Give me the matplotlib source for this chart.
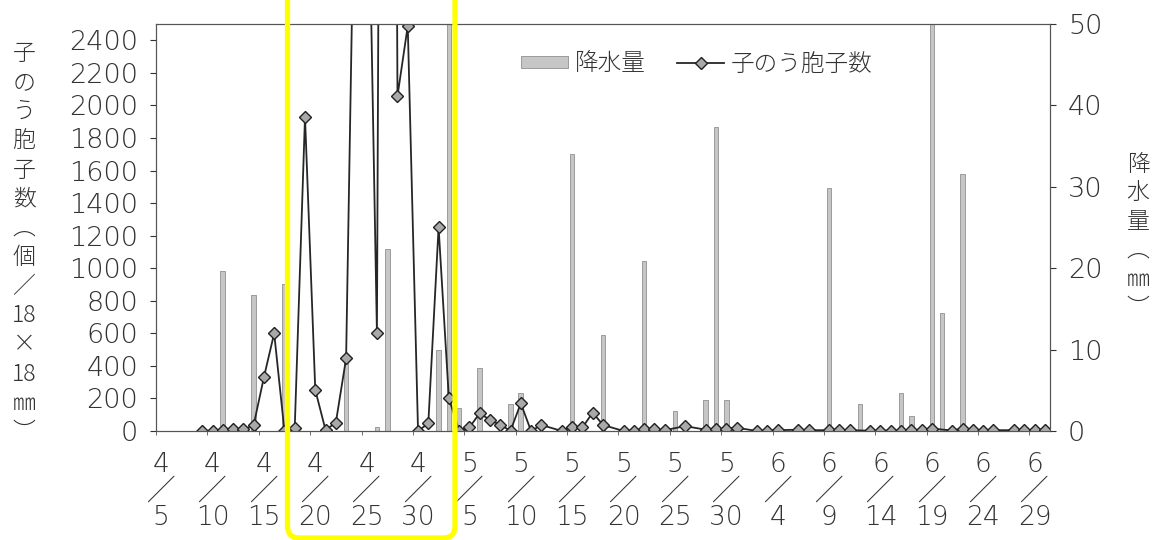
import matplotlib
matplotlib.use('Agg')
import matplotlib.pyplot as plt
import numpy as np
import pandas as pd
from matplotlib.patches import FancyBboxPatch, Patch
from matplotlib.lines import Line2D

plt.rcParams['font.family'] = ['DejaVu Sans', 'Noto Sans CJK JP']
plt.rcParams['font.weight'] = 'light'
JP = ['Noto Sans CJK JP', 'DejaVu Sans']

# category axis: every day from 4/5 to 6/30
days = pd.date_range('2000-04-05', '2000-06-30', freq='D')
day_labels = ['%d/%d' % (d.month, d.day) for d in days]

# precipitation (mm), right axis
rain_days = ['4/11', '4/14', '4/17', '4/23', '4/26', '4/27', '5/2', '5/3', '5/4',
             '5/6', '5/9', '5/10', '5/15', '5/18', '5/22', '5/25', '5/28', '5/29',
             '5/30', '6/9', '6/10', '6/12', '6/16', '6/17', '6/19', '6/20', '6/22']
rain_mm = [19.7, 16.7, 18.0, 9.5, 0.5, 22.4, 10.0, 52.0, 2.8,
           7.7, 3.3, 4.7, 34.0, 11.8, 20.9, 2.4, 3.8, 37.4,
           3.8, 29.8, 0.5, 3.3, 4.7, 1.8, 55.0, 14.5, 31.6]

# ascospore count (per 18x18 mm), left axis; days without a value are skipped
spore_days = ['4/9', '4/10', '4/11', '4/12', '4/13', '4/14', '4/15', '4/16', '4/17',
              '4/18', '4/19', '4/20', '4/21', '4/22', '4/23', '4/24', '4/25', '4/26',
              '4/27', '4/28', '4/29', '4/30', '5/1', '5/2', '5/3', '5/4', '5/5',
              '5/6', '5/7', '5/8', '5/9', '5/10', '5/11', '5/12', '5/14', '5/15',
              '5/16', '5/17', '5/18', '5/20', '5/21', '5/22', '5/23', '5/24', '5/26',
              '5/28', '5/29', '5/30', '5/31', '6/2', '6/3', '6/4', '6/6', '6/7',
              '6/9', '6/10', '6/11', '6/13', '6/14', '6/15', '6/16', '6/17', '6/18',
              '6/19', '6/21', '6/22', '6/23', '6/24', '6/25', '6/27', '6/28', '6/29',
              '6/30']
spore_count = [0, 0, 5, 15, 10, 35, 330, 600, 0,
               17, 1930, 252, 6, 51, 446, 4150, 4090, 600,
               15000, 2058, 2488, 0, 47, 1251, 201, 3, 22,
               109, 68, 37, 2, 170, 0, 37, 0, 26,
               22, 113, 37, 0, 3, 12, 10, 5, 30,
               8, 12, 15, 20, 0, 3, 5, 8, 5,
               5, 5, 5, 2, 2, 3, 3, 5, 5,
               15, 3, 15, 5, 3, 5, 5, 5, 5,
               5]

idx = {lab: i for i, lab in enumerate(day_labels)}
rain_x = [idx[d] for d in rain_days]
spore_x = [idx[d] for d in spore_days]

W, H = 1165, 540
fig = plt.figure(figsize=(W / 100, H / 100), dpi=100)
ax = fig.add_axes([156 / W, 1 - 431 / H, (1050 - 156) / W, (431 - 24) / H])
ax2 = ax.twinx()

ax2.bar(rain_x, rain_mm, width=0.45, color='#c6c6c6', edgecolor='#909090', linewidth=0.6)
ax.plot(spore_x, spore_count, color='#262626', lw=1.3, marker='D', ms=6.5,
        mfc='#a9a9a9', mec='#202020', mew=1.0)

ax.set_zorder(ax2.get_zorder() + 1)
ax.patch.set_visible(False)

ax.set_xlim(-0.5, len(days) - 0.5)
ax.set_ylim(0, 2500)
ax2.set_ylim(0, 50)
ax.set_yticks(np.arange(0, 2401, 200))
ax2.set_yticks(np.arange(0, 51, 10))

tick_pos = list(range(0, len(days), 5))
ax.set_xticks(tick_pos)
ax.set_xticklabels(['%s\n╱\n%s' % tuple(day_labels[i].split('/')) for i in tick_pos],
                   linespacing=1.05)
ax.set_xticks(np.arange(-0.5, len(days), 5), minor=True)
ax.tick_params(axis='x', which='major', length=0, pad=15, labelsize=19, colors='#333333')
ax.tick_params(axis='x', which='minor', length=3, direction='out', color='#555555')

for a in (ax, ax2):
    a.tick_params(axis='y', length=4, width=0.8, direction='out', labelsize=19.5,
                  colors='#333333', pad=9)
    for s in a.spines.values():
        s.set_color('#555555')
        s.set_linewidth(0.8)

fig.text(24 / W, 1 - 243 / H,
         '\n'.join(['子', 'の', 'う', '胞', '子', '数', '︵', '個', '／', '18', '×', '18', '㎜', '︶']),
         family=JP, fontsize=16.5, ha='center', va='center', linespacing=1.22, color='#333333')
fig.text(1138 / W, 1 - 236 / H,
         '\n'.join(['降', '水', '量', '︵', '㎜', '︶']),
         family=JP, fontsize=16.5, ha='center', va='center', linespacing=1.2, color='#333333')

handles = [Patch(facecolor='#c6c6c6', edgecolor='#909090', linewidth=0.6),
           Line2D([], [], color='#262626', lw=1.3, marker='D', ms=6.5,
                  mfc='#a9a9a9', mec='#202020', mew=1.0)]
fig.legend(handles, ['降水量', '子のう胞子数'], loc='center', bbox_to_anchor=(697 / W, 1 - 64 / H),
           ncol=2, frameon=False, prop={'family': JP, 'size': 17, 'weight': 'light'},
           handlelength=2.0, handleheight=0.45, handletextpad=0.3, columnspacing=1.3,
           labelcolor='#333333')

# yellow highlight frame
ov = fig.add_axes([0, 0, 1, 1], zorder=20)
ov.set_xlim(0, W)
ov.set_ylim(0, H)
ov.axis('off')
ov.add_patch(FancyBboxPatch((287.5, H - 538), 455 - 287.5, 600,
                            boxstyle='round,pad=0,rounding_size=12',
                            fill=False, ec='#ffff00', lw=3.8))

fig.savefig('out.png', dpi=100)
